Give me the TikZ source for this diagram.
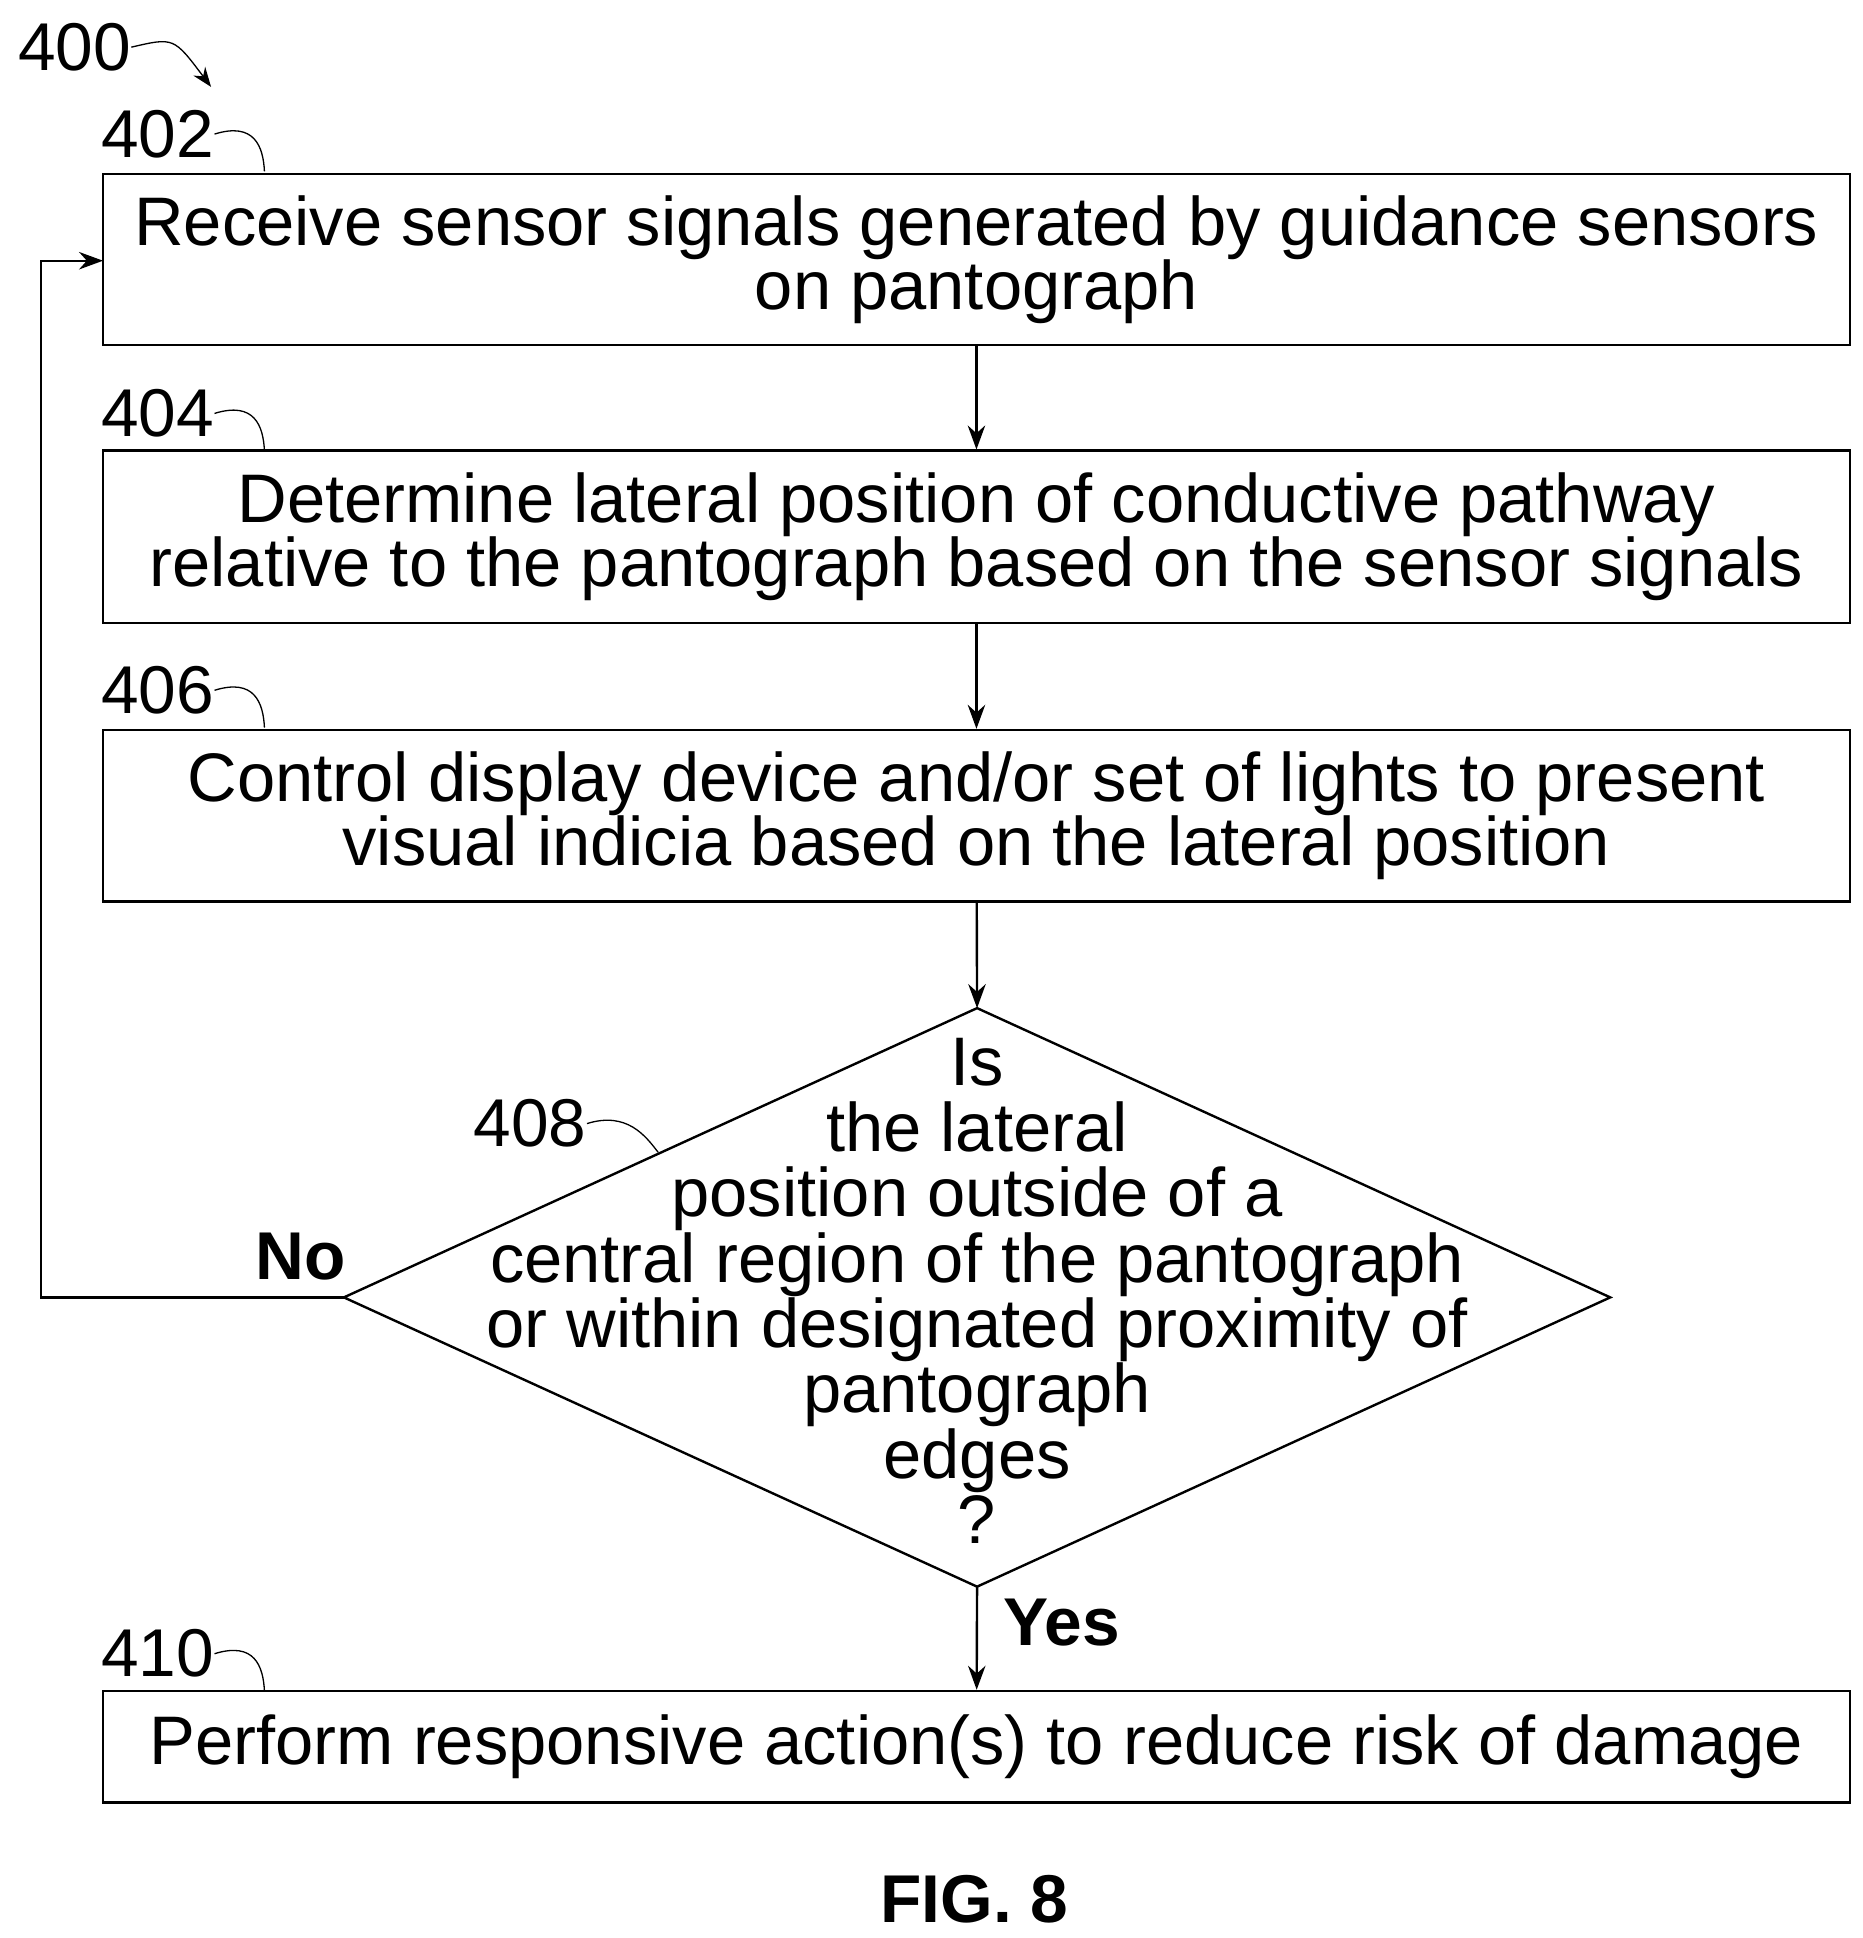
\documentclass[tikz,border=0pt]{standalone}
\usepackage{fontspec}
\setmainfont{Liberation Sans}
\usetikzlibrary{positioning,arrows.meta}
\tikzset{
  stepbox/.style={draw, line width=1.1pt, minimum width=28.14cm, align=center, inner sep=0pt},
  txt/.style={font=\fontsize{31.5}{29.5}\selectfont, align=center},
  num/.style={font=\fontsize{31}{29.5}\selectfont, inner sep=0pt},
  flow/.style={line width=1.1pt, -{Stealth[length=11pt,width=8pt]}},
  lead/.style={semithick}
}
\begin{document}
\begin{tikzpicture}[x=0.02cm, y=-0.02cm]
\useasboundingbox (0,0) rectangle (1500,1561);
% boxes
\node[stepbox, txt, minimum height=2.76cm] (s402) at (786.5,209) {Receive sensor signals generated by guidance sensors\\on pantograph};
\node[stepbox, txt, minimum height=2.78cm] (s404) at (786.5,432.5) {Determine lateral position of conductive pathway\\relative to the pantograph based on the sensor signals};
\node[stepbox, txt, minimum height=2.76cm] (s406) at (786.5,657) {Control display device and/or set of lights to present\\visual indicia based on the lateral position};
\node[stepbox, txt, minimum height=1.8cm] (s410) at (786.5,1407) {Perform responsive action(s) to reduce risk of damage};
% decision
\coordinate (dtop) at (787,812);
\coordinate (dbot) at (787,1278);
\coordinate (dleft) at (277,1045);
\coordinate (dright) at (1297,1045);
\draw[line width=1.1pt] (dtop) -- (dright) -- (dbot) -- (dleft) -- cycle;
\node[txt, font=\fontsize{31.5}{30}\selectfont] (q408) at (787,1040) {Is\\the lateral\\position outside of a\\central region of the pantograph\\or within designated proximity of\\pantograph\\edges\\?};
% connectors
\draw[flow] (s402) -- (s404);
\draw[flow] (s404) -- (s406);
\draw[flow] (s406) -- (dtop);
\draw[flow] (dbot) -- (s410);
\coordinate (back) at (33,1045);
\draw[flow] (dleft) -- (back) |- (83,210);
\node[font=\bfseries\fontsize{31}{29}\selectfont] (no) at (242,1012) {No};
\node[font=\bfseries\fontsize{31}{29}\selectfont] (yes) at (855,1307) {Yes};
% reference numerals
\node[num] (n400) at (60,38) {400};
\draw[lead, -{Stealth[length=9pt]}] (n400.east) .. controls (140,30) .. (170,70);
\foreach \n/\y in {402/108, 404/333, 406/556, 410/1332}{
  \node[num] (n\n) at (127,\y) {\n};
  \draw[lead] (n\n.east) .. controls (205,\y-10) and (212,\y+10) .. (213,\y+30);
}
\node[num] (n408) at (427,905) {408};
\draw[lead] (n408.east) .. controls (505,895) and (520,915) .. (530,928);
\node[font=\bfseries\fontsize{31}{29}\selectfont] (fig) at (785,1530) {FIG. 8};
\end{tikzpicture}
\end{document}
